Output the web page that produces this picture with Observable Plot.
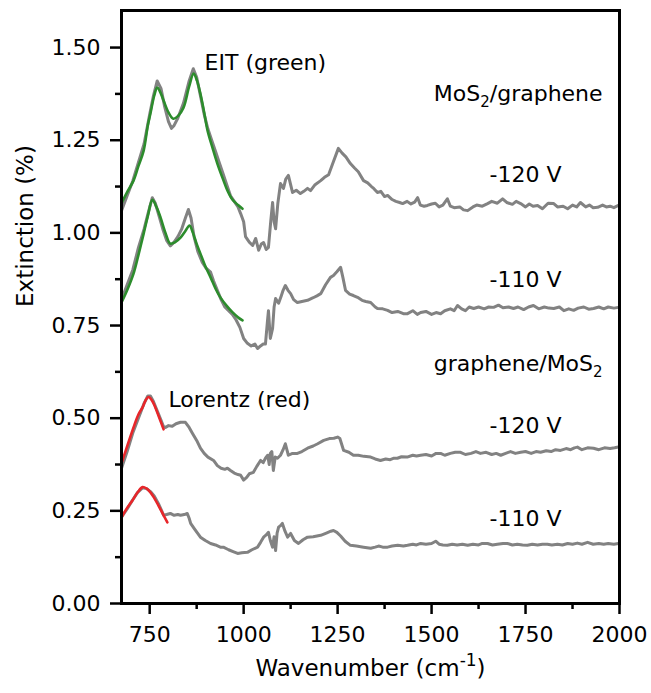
<!DOCTYPE html>
<html>
<head>
<meta charset="utf-8">
<script src="https://cdn.jsdelivr.net/npm/d3@7"></script>
<script src="https://cdn.jsdelivr.net/npm/@observablehq/plot@0.6"></script>
<style>
  html, body { margin: 0; padding: 0; background: #fff; }
  #chart { width: 651px; height: 693px; }
</style>
</head>
<body>
<div id="chart"></div>
<script>
// ---- Axis ticks ----
const xMajor = [750, 1000, 1250, 1500, 1750, 2000];
const xMinor = [875, 1125, 1375, 1625, 1875];
const yMajor = [0, 0.25, 0.5, 0.75, 1.0, 1.25, 1.5];
const yMinor = [0.125, 0.375, 0.625, 0.875, 1.125, 1.375];

// ---- Measured spectra (wavenumber cm^-1, extinction %) ----
const mos2Gr120 = [[675,1.06],[690,1.10],[705,1.14],[720,1.19],[735,1.24],[750,1.32],[760,1.37],[770,1.41],[780,1.39],[790,1.34],[800,1.30],[808,1.282],[815,1.29],[825,1.31],[840,1.35],[855,1.41],[866,1.443],[875,1.42],[885,1.37],[895,1.32],[905,1.28],[915,1.25],[925,1.22],[935,1.19],[945,1.16],[955,1.13],[965,1.10],[975,1.085],[985,1.07],[992,1.052],[1000,1.03],[1005,0.99],[1015,0.975],[1024,0.966],[1032,0.985],[1040,0.953],[1047,0.97],[1053,0.974],[1060,0.955],[1066,0.961],[1072,1.03],[1077,1.082],[1081,1.03],[1085,1.011],[1091,1.08],[1098,1.133],[1106,1.12],[1112,1.145],[1119,1.155],[1125,1.13],[1130,1.109],[1140,1.115],[1151,1.106],[1160,1.112],[1170,1.12],[1178,1.114],[1190,1.13],[1205,1.141],[1215,1.15],[1226,1.157],[1238,1.19],[1252,1.228],[1262,1.215],[1272,1.205],[1284,1.187],[1295,1.175],[1305,1.165],[1319,1.141],[1330,1.135],[1340,1.125],[1346,1.12],[1356,1.109],[1365,1.112],[1375,1.098],[1383,1.101],[1395,1.09],[1405,1.085],[1415,1.082],[1423,1.079],[1435,1.085],[1445,1.078],[1455,1.083],[1463,1.095],[1470,1.075],[1480,1.072],[1489,1.074],[1500,1.078],[1510,1.08],[1520,1.07],[1530,1.075],[1542,1.092],[1550,1.072],[1560,1.068],[1575,1.07],[1585,1.062],[1596,1.06],[1610,1.07],[1620,1.075],[1635,1.072],[1649,1.079],[1660,1.085],[1675,1.08],[1689,1.092],[1700,1.082],[1715,1.077],[1725,1.085],[1737,1.079],[1750,1.07],[1760,1.078],[1770,1.072],[1782,1.074],[1795,1.065],[1810,1.08],[1825,1.079],[1835,1.07],[1850,1.072],[1862,1.065],[1875,1.075],[1886,1.07],[1896,1.082],[1910,1.07],[1920,1.075],[1930,1.068],[1942,1.069],[1955,1.075],[1965,1.07],[1975,1.072],[1985,1.068],[1997,1.074]];

const mos2Gr110 = [[675,0.82],[690,0.86],[705,0.90],[720,0.96],[735,1.01],[745,1.05],[757,1.095],[765,1.08],[775,1.045],[785,1.01],[795,0.98],[805,0.965],[815,0.975],[825,0.99],[835,1.01],[845,1.04],[853,1.063],[860,1.04],[868,0.99],[878,0.95],[890,0.92],[900,0.905],[912,0.894],[920,0.87],[930,0.845],[940,0.82],[950,0.80],[960,0.79],[970,0.78],[980,0.765],[990,0.745],[1000,0.715],[1010,0.702],[1020,0.695],[1030,0.70],[1037,0.688],[1045,0.695],[1052,0.70],[1058,0.70],[1063,0.758],[1066,0.79],[1071,0.715],[1077,0.742],[1081,0.80],[1085,0.823],[1093,0.81],[1100,0.83],[1105,0.845],[1111,0.858],[1118,0.845],[1125,0.836],[1133,0.82],[1143,0.812],[1155,0.815],[1170,0.818],[1185,0.825],[1195,0.83],[1205,0.836],[1218,0.86],[1231,0.88],[1239,0.885],[1248,0.895],[1258,0.907],[1264,0.88],[1271,0.845],[1282,0.835],[1292,0.831],[1303,0.826],[1315,0.818],[1325,0.815],[1338,0.812],[1350,0.80],[1356,0.796],[1370,0.795],[1383,0.791],[1395,0.785],[1410,0.788],[1425,0.782],[1436,0.782],[1450,0.79],[1462,0.78],[1471,0.785],[1485,0.788],[1500,0.78],[1512,0.785],[1524,0.782],[1535,0.79],[1550,0.795],[1560,0.79],[1569,0.804],[1580,0.795],[1590,0.79],[1600,0.80],[1612,0.796],[1625,0.80],[1640,0.795],[1652,0.80],[1665,0.799],[1678,0.805],[1690,0.798],[1705,0.80],[1718,0.796],[1730,0.80],[1745,0.793],[1758,0.80],[1771,0.804],[1785,0.795],[1800,0.80],[1812,0.797],[1825,0.796],[1840,0.80],[1852,0.79],[1865,0.795],[1878,0.791],[1890,0.797],[1905,0.80],[1918,0.794],[1931,0.796],[1945,0.80],[1958,0.795],[1970,0.80],[1985,0.797],[1997,0.799]];

const grMos2120 = [[675,0.365],[690,0.41],[705,0.46],[720,0.50],[735,0.54],[745,0.56],[752,0.56],[760,0.545],[770,0.52],[780,0.495],[787,0.477],[792,0.475],[800,0.48],[810,0.478],[820,0.485],[832,0.489],[845,0.489],[855,0.475],[864,0.459],[875,0.44],[885,0.419],[895,0.405],[905,0.395],[920,0.386],[930,0.372],[940,0.365],[950,0.362],[957,0.365],[965,0.359],[975,0.352],[985,0.348],[992,0.346],[1000,0.333],[1008,0.34],[1015,0.35],[1026,0.354],[1035,0.37],[1045,0.386],[1052,0.38],[1058,0.392],[1064,0.40],[1068,0.375],[1071,0.405],[1075,0.41],[1079,0.359],[1084,0.395],[1090,0.392],[1098,0.40],[1105,0.415],[1111,0.431],[1115,0.415],[1119,0.40],[1130,0.405],[1143,0.405],[1155,0.41],[1170,0.419],[1185,0.425],[1197,0.431],[1213,0.44],[1228,0.445],[1240,0.446],[1250,0.449],[1256,0.445],[1266,0.413],[1280,0.408],[1292,0.40],[1305,0.40],[1320,0.397],[1338,0.395],[1350,0.39],[1364,0.386],[1378,0.39],[1390,0.388],[1400,0.392],[1409,0.392],[1420,0.396],[1435,0.395],[1450,0.40],[1460,0.398],[1471,0.40],[1485,0.402],[1500,0.398],[1512,0.405],[1524,0.405],[1535,0.40],[1550,0.405],[1563,0.408],[1577,0.408],[1590,0.402],[1605,0.405],[1618,0.41],[1630,0.405],[1645,0.408],[1660,0.402],[1672,0.405],[1684,0.40],[1697,0.405],[1710,0.41],[1723,0.405],[1737,0.408],[1750,0.41],[1765,0.405],[1778,0.41],[1790,0.408],[1805,0.412],[1818,0.41],[1830,0.415],[1843,0.413],[1858,0.418],[1870,0.415],[1880,0.42],[1888,0.422],[1900,0.415],[1915,0.42],[1931,0.419],[1945,0.415],[1960,0.42],[1975,0.418],[1987,0.42],[1997,0.422]];

const grMos2110 = [[675,0.233],[690,0.255],[705,0.28],[718,0.30],[731,0.312],[742,0.31],[752,0.302],[762,0.29],[773,0.27],[782,0.25],[787,0.238],[795,0.24],[805,0.243],[815,0.238],[825,0.24],[832,0.238],[842,0.24],[850,0.243],[855,0.23],[859,0.216],[870,0.20],[885,0.179],[898,0.17],[912,0.162],[925,0.158],[938,0.152],[946,0.152],[960,0.145],[972,0.14],[984,0.135],[995,0.137],[1010,0.138],[1022,0.145],[1037,0.152],[1045,0.165],[1053,0.179],[1060,0.185],[1066,0.192],[1071,0.17],[1077,0.152],[1081,0.18],[1085,0.143],[1089,0.19],[1093,0.206],[1098,0.21],[1103,0.216],[1110,0.195],[1117,0.179],[1125,0.189],[1135,0.17],[1146,0.162],[1158,0.172],[1170,0.179],[1185,0.18],[1205,0.184],[1220,0.19],[1232,0.195],[1239,0.197],[1248,0.192],[1258,0.182],[1270,0.168],[1284,0.157],[1300,0.155],[1319,0.152],[1338,0.149],[1350,0.152],[1359,0.155],[1370,0.152],[1383,0.152],[1395,0.155],[1410,0.157],[1425,0.155],[1436,0.157],[1450,0.16],[1460,0.158],[1471,0.162],[1485,0.16],[1500,0.162],[1511,0.168],[1520,0.16],[1530,0.158],[1542,0.157],[1555,0.16],[1568,0.158],[1582,0.16],[1596,0.157],[1610,0.16],[1625,0.158],[1635,0.162],[1649,0.162],[1662,0.158],[1675,0.16],[1690,0.162],[1702,0.162],[1715,0.158],[1728,0.16],[1742,0.158],[1755,0.157],[1768,0.16],[1782,0.158],[1795,0.16],[1808,0.16],[1820,0.158],[1835,0.16],[1848,0.158],[1862,0.162],[1875,0.16],[1888,0.163],[1900,0.16],[1915,0.165],[1930,0.16],[1945,0.162],[1958,0.16],[1970,0.162],[1985,0.16],[1997,0.162]];

// ---- Fits ----
const eitFit120 = [[675,1.08],[690,1.11],[707,1.141],[720,1.18],[734,1.222],[745,1.29],[752,1.322],[762,1.37],[770,1.392],[778,1.38],[787,1.357],[800,1.325],[813,1.308],[825,1.315],[840,1.338],[855,1.395],[867,1.43],[876,1.41],[885,1.375],[895,1.325],[904,1.276],[917,1.23],[930,1.187],[945,1.145],[957,1.114],[970,1.09],[985,1.075],[997,1.065]];
const eitFit110 = [[675,0.812],[690,0.845],[707,0.89],[720,0.94],[734,0.998],[745,1.045],[757,1.089],[768,1.07],[779,1.041],[792,1.0],[805,0.971],[818,0.975],[832,0.987],[845,1.005],[856,1.02],[865,1.0],[875,0.97],[885,0.944],[898,0.91],[912,0.88],[925,0.85],[938,0.826],[955,0.803],[970,0.786],[985,0.772],[997,0.764]];
const lorFit120 = [[675,0.378],[691,0.427],[707,0.475],[720,0.51],[731,0.529],[740,0.55],[747,0.557],[756,0.548],[765,0.529],[776,0.5],[787,0.47]];
const lorFit110 = [[675,0.232],[690,0.258],[704,0.278],[718,0.30],[731,0.314],[742,0.31],[752,0.30],[763,0.283],[773,0.265],[785,0.242],[797,0.219]];

// ---- Annotations (data coordinates) ----
const notesStart = [
  {text: "EIT (green)", x: 896, y: 1.459},
  {text: "Lorentz (red)", x: 800, y: 0.548}
];
const notesEnd = [
  {text: "MoS\u2082/graphene", x: 1955, y: 1.374},
  {text: "graphene/MoS\u2082", x: 1955, y: 0.645}
];
const notesMid = [
  {text: "-120 V", x: 1750, y: 1.156},
  {text: "-110 V", x: 1750, y: 0.872},
  {text: "-120 V", x: 1750, y: 0.478},
  {text: "-110 V", x: 1750, y: 0.227}
];

const toRows = (arr, series) => arr.map(([x, y]) => ({x, y, series}));
const spectra = [
  ...toRows(mos2Gr120, "MoS2/graphene -120 V"),
  ...toRows(mos2Gr110, "MoS2/graphene -110 V"),
  ...toRows(grMos2120, "graphene/MoS2 -120 V"),
  ...toRows(grMos2110, "graphene/MoS2 -110 V")
];
const greenFits = [...toRows(eitFit120, "EIT -120"), ...toRows(eitFit110, "EIT -110")];
const redFits = [...toRows(lorFit120, "Lor -120"), ...toRows(lorFit110, "Lor -110")];

const FONT = "DejaVu Sans";

const chart = Plot.plot({
  width: 651,
  height: 693,
  marginLeft: 121,
  marginRight: 32,
  marginTop: 10,
  marginBottom: 90,
  x: {domain: [675, 2000], label: null},
  y: {domain: [0, 1.6], label: null},
  style: {fontFamily: FONT, fontSize: "22px", color: "#000", background: "#fff", overflow: "visible"},
  marks: [
    Plot.line(spectra, {x: "x", y: "y", z: "series", stroke: "#828282", strokeWidth: 3}),
    Plot.line(greenFits, {x: "x", y: "y", z: "series", stroke: "#2c8c2c", strokeWidth: 2.6, curve: "catmull-rom"}),
    Plot.line(redFits, {x: "x", y: "y", z: "series", stroke: "#e8262a", strokeWidth: 2.6, curve: "catmull-rom"}),
    Plot.frame({stroke: "#000", strokeWidth: 3}),
    Plot.axisX({ticks: xMajor, anchor: "bottom", tickSize: 11, tickPadding: 12, tickFormat: d => String(d), strokeWidth: 2.5, fontSize: 22, label: null}),
    Plot.axisX({ticks: xMinor, anchor: "bottom", tickSize: 6, tickFormat: () => "", strokeWidth: 2.5, label: null}),
    Plot.axisY({ticks: yMajor, anchor: "left", tickSize: 11, tickPadding: 10, tickFormat: d3.format(".2f"), strokeWidth: 2.5, fontSize: 22, label: null}),
    Plot.axisY({ticks: yMinor, anchor: "left", tickSize: 6, tickFormat: () => "", strokeWidth: 2.5, label: null}),
    Plot.text(notesStart, {x: "x", y: "y", text: "text", textAnchor: "start", fontSize: 22, fill: "#000"}),
    Plot.text(notesEnd, {x: "x", y: "y", text: "text", textAnchor: "end", fontSize: 22, fill: "#000"}),
    Plot.text(notesMid, {x: "x", y: "y", text: "text", textAnchor: "middle", fontSize: 22, fill: "#000"}),
    Plot.text(["Wavenumber (cm\u207B\u00B9)"], {text: d => d, frameAnchor: "bottom", dy: 72, fontSize: 23, fill: "#000"}),
    Plot.text(["Extinction (%)"], {text: d => d, frameAnchor: "left", dx: -96, rotate: -90, fontSize: 23, fill: "#000"})
  ]
});

// Render sub/superscripts as real tspans
d3.select(chart).selectAll("text").each(function () {
  const t = this.textContent;
  if (!/[\u2082\u207B\u00B9]/.test(t)) return;
  const parts = t.split(/(\u2082|\u207B\u00B9)/).filter(s => s.length);
  const el = d3.select(this);
  el.text(null);
  let shift = 0;
  for (const p of parts) {
    if (p === "\u2082") {
      el.append("tspan").attr("font-size", "15px").attr("dy", 6 - shift).text("2");
      shift = 6;
    } else if (p === "\u207B\u00B9") {
      el.append("tspan").attr("font-size", "17px").attr("dy", -10 - shift).text("-1");
      shift = -10;
    } else {
      el.append("tspan").attr("dy", -shift).text(p);
      shift = 0;
    }
  }
});

document.getElementById("chart").appendChild(chart);
</script>
</body>
</html>
